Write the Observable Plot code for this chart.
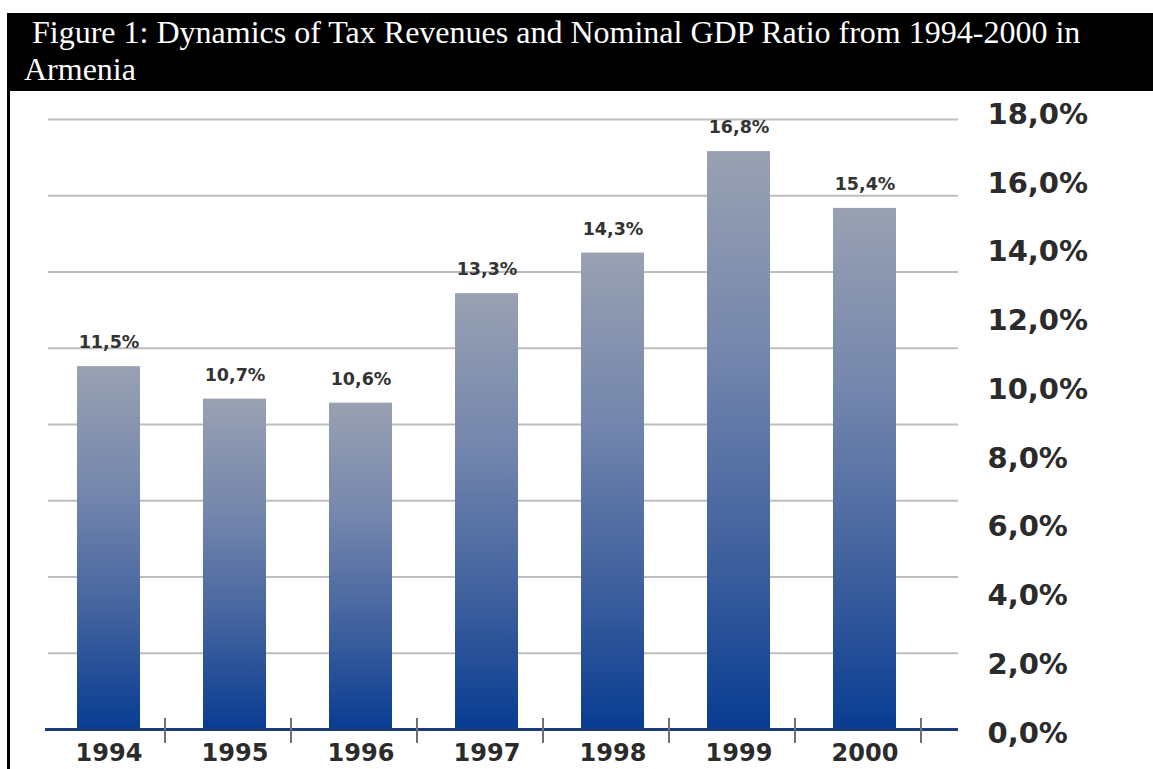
<!DOCTYPE html>
<html>
<head>
<meta charset="utf-8">
<script src="https://cdn.jsdelivr.net/npm/d3@7"></script>
<script src="https://cdn.jsdelivr.net/npm/@observablehq/plot@0.6"></script>
<style>
  html, body { margin: 0; padding: 0; background: #fff; }
  body { width: 1153px; height: 769px; overflow: hidden; position: relative; }
  #title {
    margin: 13px 0 0 7px; height: 77px; padding: 1px 0 0 17px;
    background: #000; color: #fff;
    font-family: "Liberation Serif", "Times New Roman", serif;
    font-size: 32px; line-height: 37px; white-space: nowrap; overflow: hidden;
  }
  #chart { position: relative; width: 1153px; height: 678px; }
  #chart svg { position: absolute; left: 0; top: 0; }
  #border { position: absolute; left: 7px; top: 0; width: 3px; height: 678px; background: #000; }
</style>
</head>
<body>
<div id="title">&nbsp;Figure 1: Dynamics of Tax Revenues and Nominal GDP Ratio from 1994-2000 in<br>Armenia</div>
<div id="chart"><div id="border"></div></div>
<script>
// ---- data ----
const years = ["1994", "1995", "1996", "1997", "1998", "1999", "2000"];
const taxToGdp = [11.5, 10.7, 10.6, 13.3, 14.3, 16.8, 15.4];
const axisTicks = [0, 2, 4, 6, 8, 10, 12, 14, 16, 18];

// bar scale of the original graphic is truncated: the baseline sits near 2.6%
const barDomain = [2.56, 17.59];
const gridCount = 8;

const data = years.map((year, i) => ({year, value: taxToGdp[i]}));
const pct = v => v.toFixed(1).replace(".", ",") + "%";
const gridValues = d3.range(1, gridCount + 1).map(i => barDomain[0] + i * (barDomain[1] - barDomain[0]) / gridCount);

const main = Plot.plot({
  width: 1153, height: 678,
  marginTop: 28, marginBottom: 40, marginLeft: 48, marginRight: 195,
  x: {type: "band", domain: years, range: [44.5, 928], paddingInner: 0.5, paddingOuter: 0.25},
  y: {domain: barDomain, axis: null},
  style: {fontFamily: "DejaVu Sans", background: "transparent", color: "#2b2b2b"},
  marks: [
    Plot.ruleY(gridValues, {stroke: "#bdbdbd", strokeWidth: 2}),
    Plot.barY(data, {x: "year", y1: barDomain[0], y2: "value", fill: "url(#barGrad)"}),
    Plot.ruleY([barDomain[0]], {stroke: "#1d3c7e", strokeWidth: 3, insetLeft: -3}),
    Plot.ruleX(years, {x: d => d, y1: barDomain[0], y2: barDomain[0], insetTop: -11, insetBottom: -14, dx: 56, stroke: "#707070", strokeWidth: 2}),
    Plot.text(data, {x: "year", y: "value", text: d => pct(d.value), dy: -24, fontSize: 17.5, fontWeight: "bold", fill: "#333"}),
    Plot.axisX({tickSize: 0, tickPadding: 14, fontSize: 24, fontWeight: "bold", label: null})
  ]
});

const defs = d3.select(main).insert("defs", ":first-child");
const grad = defs.append("linearGradient").attr("id", "barGrad")
  .attr("x1", 0).attr("y1", 0).attr("x2", 0).attr("y2", 1);
[["0%", "#99a1b2"], ["35%", "#7486ad"], ["70%", "#3f609e"], ["100%", "#083c92"]]
  .forEach(([o, c]) => grad.append("stop").attr("offset", o).attr("stop-color", c));

const axisPlot = Plot.plot({
  width: 1153, height: 678,
  marginTop: 23, marginBottom: 36, marginLeft: 0, marginRight: 166,
  y: {domain: [0, 18]},
  style: {fontFamily: "DejaVu Sans", background: "transparent", color: "#2b2b2b"},
  marks: [
    Plot.axisY(axisTicks, {anchor: "right", tickSize: 0, tickPadding: 0, tickFormat: pct, fontSize: 29, fontWeight: "bold", label: null})
  ]
});

const chart = document.getElementById("chart");
chart.appendChild(main);
chart.appendChild(axisPlot);
</script>
</body>
</html>
